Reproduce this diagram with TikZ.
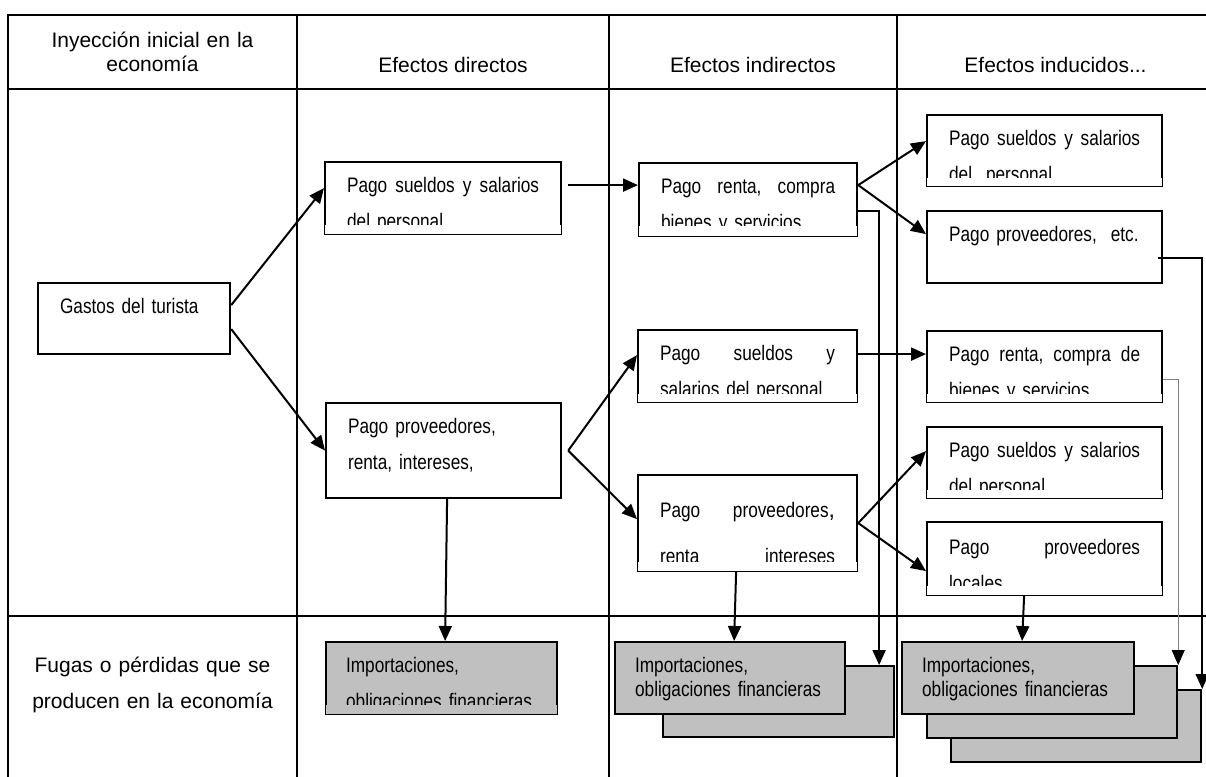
\documentclass[tikz,border=0pt]{standalone}
\usepackage{fontspec}
\setmainfont{Liberation Sans}
\newfontfamily\narrowfont[FakeStretch=0.82]{Liberation Sans}
\usetikzlibrary{arrows.meta}
\tikzset{> = {Triangle[length=15pt,width=13pt]}}
\definecolor{fuga}{HTML}{C0C0C0}
\newcommand\cutoff[3][white]{\fill[#1] ([shift={(1.2pt,1.2pt)}]#2.south west) rectangle ([shift={(-1.2pt,#3pt)}]#2.south east);}
\tikzset{
  grid/.style={line width=2.6pt},
  head/.style={inner sep=0pt, align=center, font=\fontsize{21}{24}\selectfont},
  box/.style={draw, line width=2.2pt, fill=white, anchor=north west, inner xsep=22pt, inner ysep=0pt,
    align=left, text height=30pt, font=\narrowfont\fontsize{21}{36}\selectfont},
  fug/.style={box, fill=fuga, inner xsep=20pt},
  arr/.style={->, line width=2pt},
  thin line/.style={line width=0.9pt, draw=gray}
}
\begin{document}
\begin{tikzpicture}[x=1pt,y=-1pt]
\useasboundingbox (0,0) rectangle (1206,776);
% cuadro
\draw[grid] (8,790) |- (1220,15);
\draw[grid] (8,89) -- (1220,89);
\draw[grid] (8,616) -- (1220,616);
\foreach \x in {297,609,897} \draw[grid] (\x,15) -- (\x,790);
% encabezados
\node[head, text width=280pt, anchor=base] (iny) at (152.5,48) {Inyección inicial en la\\economía};
\node[head, anchor=base] (edir) at (453,72) {Efectos directos};
\node[head, anchor=base] (eind) at (753,72) {Efectos indirectos};
\node[head, anchor=base] (endc) at (1055.5,72) {Efectos inducidos...};
\node[head, text width=280pt, anchor=base, font=\fontsize{21}{36}\selectfont] (fugas) at (152.5,672) {Fugas o pérdidas que se\\producen en la economía};
% cajas
\node[box, text width=148pt, text depth=41pt] (gasto) at (37,282) {Gastos del turista};
\node[box, text width=192pt, text depth=42pt] (dir1) at (324,161) {Pago\hfill sueldos\hfill y\hfill salarios\\del personal};
\node[box, text width=191pt, text depth=65pt] (dir2) at (325,402) {Pago proveedores,\\renta, intereses,};
\node[box, text width=174pt, text depth=43pt] (ind1) at (638,162) {Pago\hfill renta,\hfill compra\\bienes y servicios};
\node[box, text width=175pt, text depth=42pt] (ind2) at (637,329) {Pago\hfill sueldos\hfill y\\salarios del personal};
\node[box, text width=175pt, text height=42pt, text depth=54pt] (ind3) at (637,474) {Pago\hfill proveedores{\rmfamily\fontsize{23}{36}\selectfont,}\\[10pt]renta\hfill intereses};
\node[box, text width=191pt, text depth=41pt] (ndc1) at (926,114) {Pago\hfill sueldos\hfill y\hfill salarios\\del\ \ personal};
\node[box, text width=191pt, text depth=42pt] (ndc2) at (926,210) {Pago proveedores,\ \ etc.};
\node[box, text width=191pt, text depth=41pt] (ndc3) at (926,330) {Pago\hfill renta,\hfill compra\hfill de\\bienes y servicios};
\node[box, text width=191pt, text depth=41pt] (ndc4) at (926,426) {Pago\hfill sueldos\hfill y\hfill salarios\\del personal};
\node[box, text width=191pt, text height=32pt, text depth=41pt] (ndc5) at (926,521) {Pago\hfill proveedores\\locales};
% fugas
\node[fug, text width=191pt, text depth=42pt] (fugd) at (325,641) {Importaciones,\\obligaciones financieras};
\node[fug, text width=191pt, text depth=41pt] (fugi2) at (662,665) {};
\node[fug, text width=190pt, text depth=42pt, font=\narrowfont\fontsize{21}{24}\selectfont] (fugi1) at (614,641) {Importaciones,\\obligaciones financieras};
\node[fug, text width=210pt, text depth=42pt] (fugn3) at (950,689) {};
\node[fug, text width=210pt, text depth=42pt] (fugn2) at (926,665) {};
\node[fug, text width=192pt, text depth=42pt, font=\narrowfont\fontsize{21}{24}\selectfont] (fugn1) at (901,641) {Importaciones,\\obligaciones financieras};
% texto cortado
\cutoff{dir1}{10} \cutoff{ind1}{11} \cutoff{ind2}{9} \cutoff{ind3}{10}
\cutoff{ndc1}{9} \cutoff{ndc3}{9} \cutoff{ndc4}{9} \cutoff{ndc5}{10}
\cutoff[fuga]{fugd}{10}
% flechas
\draw[arr] ([yshift=13.5pt]gasto.east) -- ([yshift=10pt]dir1.west);
\draw[arr] ([yshift=-10.5pt]gasto.east) -- (dir2.west);
\draw[arr] ([xshift=6pt,yshift=13pt]dir1.east) -- ([yshift=14.5pt]ind1.west);
\draw[arr] ([xshift=6pt]dir2.east) -- ([yshift=11pt]ind2.west);
\draw[arr] ([xshift=6pt]dir2.east) -- ([yshift=4pt]ind3.west);
\draw[arr] ([xshift=3.5pt]dir2.south) -- ([xshift=3.5pt]fugd.north);
\draw[arr] ([yshift=14.5pt]ind1.east) -- ([yshift=9.5pt]ndc1.west);
\draw[arr] ([yshift=14.5pt]ind1.east) -- ([yshift=13pt]ndc2.west);
\draw[arr] ([yshift=-11.5pt]ind1.east) -| ([xshift=100.5pt]fugi2.north);
\draw[arr] ([yshift=12pt]ind2.east) -- ([yshift=12.5pt]ndc3.west);
\draw[arr] (ind3.east) -- ([yshift=11.5pt]ndc4.west);
\draw[arr] (ind3.east) -- ([yshift=-12.5pt]ndc5.west);
\draw[arr] ([xshift=-11.5pt]ind3.south) -- ([xshift=4pt]fugi1.north);
\draw[arr] ([xshift=-20.5pt]ndc5.south) -- ([xshift=4pt]fugn1.north);
\draw[arr, thin line, -{Triangle[length=15pt,width=13pt,color=black]}] ([yshift=-12.5pt]ndc3.east) -| (fugn2.north east);
\draw[arr] ([xshift=-5pt,yshift=-11pt]ndc2.east) -| (fugn3.north east);
\end{tikzpicture}
\end{document}
